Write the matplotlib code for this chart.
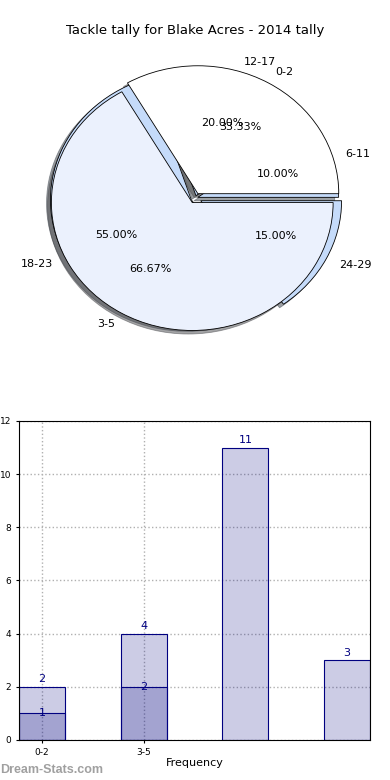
import numpy as np
import matplotlib
matplotlib.use("Agg")
import matplotlib.pyplot as plt

# age groups and tackle counts
groups_a = ['6-11', '12-17', '18-23', '24-29']
counts_a = [2, 4, 11, 3]
groups_b = ['0-2', '3-5']
counts_b = [1, 2]

title = 'Tackle tally for Blake Acres - 2014 tally'

fig = plt.figure(figsize=(3.9, 7.8), dpi=100)

# ---- pie: two series stacked on top of each other
ax_pie = fig.add_axes([0.0487, 0.541, 0.903, 0.410])
wedges_a, texts_a, auto_a = ax_pie.pie(
    counts_a, labels=groups_a, autopct='%1.2f%%', shadow=True,
    explode=[0.02, 0.02, 0.03, 0.045], colors=['#c5dbfa'] * len(counts_a),
    wedgeprops=dict(edgecolor='black', linewidth=0.6))
wedges_b, texts_b, auto_b = ax_pie.pie(
    counts_b, labels=groups_b, autopct='%1.2f%%', shadow=True,
    explode=[0.04, 0.04], colors=['white', '#ebf1fd'],
    wedgeprops=dict(edgecolor='black', linewidth=0.6))
for t in texts_a + texts_b + auto_a + auto_b:
    t.set_fontsize(8)
ax_pie.set_aspect('auto')
ax_pie.set_xlim(-1.25, 1.25)
ax_pie.set_ylim(-1.25, 1.25)
fig.text(0.5, 0.961, title, ha='center', va='center', fontsize=9.5)

# ---- bars: same two series overlaid
ax_bar = fig.add_axes([0.0487, 0.0513, 0.9, 0.409])
width = 0.45
xa = np.arange(len(counts_a))
xb = np.arange(len(counts_b))
face = (0, 0, 0.5, 0.2)
ax_bar.bar(xa, counts_a, width, color=face, edgecolor='navy', linewidth=0.8)
ax_bar.bar(xb, counts_b, width, color=face, edgecolor='navy', linewidth=0.8)
for x, v in zip(xa, counts_a):
    ax_bar.text(x, v + 0.1, str(v), ha='center', va='bottom', fontsize=8, color='navy')
for x, v in zip(xb, counts_b):
    ax_bar.text(x, v, str(v), ha='center', va='center', fontsize=8, color='navy')

ax_bar.set_xlim(-width / 2, len(counts_a) - 1 + width / 2)
ax_bar.set_ylim(0, 12)
ax_bar.set_yticks(range(0, 13, 2))
ax_bar.set_xticks(xb)
ax_bar.set_xticklabels(groups_b)
ax_bar.tick_params(labelsize=6.5, length=2)
ax_bar.grid(True, linestyle=':', color='#b0b0b0', linewidth=1)
ax_bar.set_axisbelow(True)
ax_bar.set_xlabel('Frequency', fontsize=8, labelpad=1)
ax_bar.set_ylabel('Stat Instances', fontsize=8)
ax_bar.yaxis.set_label_coords(-0.085, 0.5)

fig.text(0.0, 0.013, 'Dream-Stats.com', fontsize=9, color='#a0a0a0',
         family=['Liberation Sans', 'DejaVu Sans'], fontweight='bold',
         ha='left', va='center')

fig.savefig('out.png', dpi=100)
